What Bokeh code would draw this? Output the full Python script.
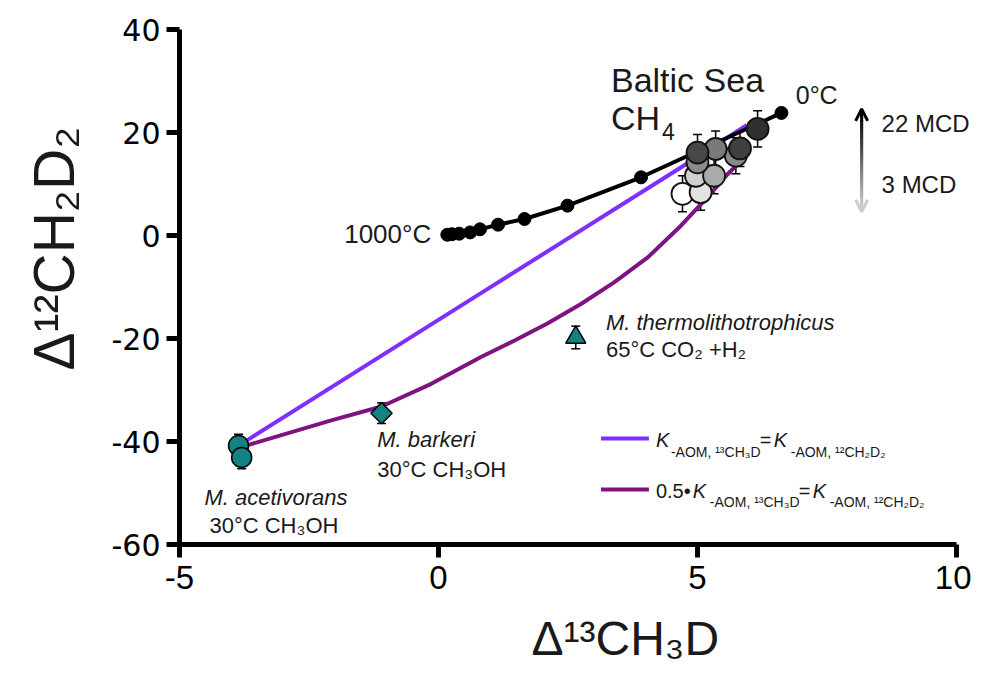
import numpy as np
from bokeh.plotting import figure
from bokeh.models import (ColumnDataSource, Whisker, Label, Arrow, OpenHead,
                          TeeHead, FixedTicker, Range1d, Title, PrintfTickFormatter)
from bokeh.embed import file_html
from bokeh.resources import INLINE

# ---------------- data ----------------
# equilibrium curve 0 °C ... 1000 °C
eq_x = [6.62, 3.91, 2.49, 1.66, 1.15, 0.80, 0.61, 0.40, 0.26, 0.17]
eq_y = [23.8, 11.3, 5.8, 3.2, 2.1, 1.2, 0.6, 0.35, 0.25, 0.15]

# Baltic Sea CH4 samples (drawn light -> dark)
baltic_x = [4.71, 5.06, 4.97, 5.32, 5.00, 5.74, 5.35, 5.00, 5.82, 6.16]
baltic_y = [8.1, 8.4, 11.6, 11.6, 14.2, 15.5, 16.8, 16.1, 16.9, 20.7]
baltic_err = [3.5, 3.5, 3.5, 3.5, 3.5, 3.5, 3.5, 3.5, 3.5, 3.5]
baltic_fill = ["#ffffff", "#e2e2e2", "#d0d0d0", "#aaaaaa", "#8a8a8a",
               "#8a8a8a", "#7a7a7a", "#474747", "#3f3f3f", "#303030"]

# culture experiments
acet_x = [-3.86, -3.80]
acet_y = [-40.8, -43.1]
acet_err = [2.2, 2.2]
bark_x = [-1.10]
bark_y = [-34.5]
bark_err = [2.0]
thermo_x = [2.65]
thermo_y = [-19.8]
thermo_err = [2.2]

# model curves
mix_x = [-3.83, 0.82, 4.74, 5.95]
mix_y = [-40.6, -11.2, 13.6, 21.4]
half_x = [-3.83, -3.65, -2.07, -1.10, -0.14, 0.82, 1.47, 2.11, 2.75, 3.39,
          4.04, 4.68, 5.19, 5.58, 5.84, 5.96]
half_y = [-41.0, -40.6, -35.9, -33.2, -28.8, -23.6, -20.4, -17.05, -13.3, -9.1,
          -4.25, 1.9, 7.4, 11.9, 14.5, 16.4]

x_ticks = [-5, 0, 5, 10]
y_ticks = [-60, -40, -20, 0, 20, 40]

TEAL = "#128282"
VIOLET = "#7f2fff"
PURPLE = "#7f137f"
TXT = "#1a1a1a"

# image-pixel -> data helpers (for annotation placement)
PXU = 778.0 / 15.0
def X(px):
    return -5 + (px - 178) / PXU

def Y(py):
    return 40 - (py - 28.6) * 100.0 / 515.4

W, H = 971, 695
p = figure(width=W, height=H, output_backend="svg", toolbar_location=None,
           x_range=Range1d(-5, X(W)), y_range=Range1d(-60, 40),
           min_border_left=178, min_border_right=0, min_border_top=29,
           min_border_bottom=151)
p.outline_line_color = None
p.grid.visible = False
p.background_fill_color = "white"
p.border_fill_color = "white"

for ax in (p.xaxis[0], p.yaxis[0]):
    ax.axis_line_width = 5
    ax.axis_line_color = "black"
    ax.major_tick_line_width = 5
    ax.major_tick_line_color = "black"
    ax.major_tick_out = 13
    ax.major_tick_in = 0
    ax.minor_tick_line_color = None
    ax.major_label_text_color = "black"
    ax.formatter = PrintfTickFormatter(format="%d")
p.xaxis.bounds = (-5, 10)
p.xaxis.ticker = FixedTicker(ticks=x_ticks)
p.yaxis.ticker = FixedTicker(ticks=y_ticks)
p.xaxis.major_label_text_font = "Liberation Sans"
p.xaxis.major_label_text_font_size = "33px"
p.xaxis.major_label_standoff = 8
p.yaxis.major_label_text_font = "DejaVu Sans"
p.yaxis.major_label_text_font_size = "30px"
p.yaxis.major_label_standoff = 6

# axis titles as side titles (so they can be placed off-centre)
p.add_layout(Title(text="Δ¹³CH₃D", align="left", offset=352, standoff=37,
                   text_font="Liberation Sans", text_font_size="48px",
                   text_font_style="normal", text_color=TXT), "below")
p.add_layout(Title(text="Δ¹²CH₂D₂", align="left", offset=174, standoff=42,
                   vertical_align="top",
                   text_font="Liberation Sans", text_font_size="57px",
                   text_font_style="normal", text_color=TXT), "left")

# model lines
p.line(mix_x, mix_y, line_color=VIOLET, line_width=4)
p.line(half_x, half_y, line_color=PURPLE, line_width=4, line_join="round")

# equilibrium curve
p.line(eq_x, eq_y, line_color="black", line_width=4)
p.scatter(eq_x, eq_y, size=13, fill_color="black", line_color="black")

# error bars
def whisk(xs, ys, es):
    src = ColumnDataSource(dict(x=xs, lo=[y - e for y, e in zip(ys, es)],
                                hi=[y + e for y, e in zip(ys, es)]))
    w = Whisker(source=src, base="x", lower="lo", upper="hi", dimension="height",
                line_color="black", line_width=1.5,
                upper_head=TeeHead(size=9, line_width=1.5, line_color="black"),
                lower_head=TeeHead(size=9, line_width=1.5, line_color="black"))
    p.add_layout(w)

whisk(baltic_x, baltic_y, baltic_err)
whisk(acet_x, acet_y, acet_err)
whisk(bark_x, bark_y, bark_err)
whisk(thermo_x, thermo_y, thermo_err)

bsrc = ColumnDataSource(dict(x=baltic_x, y=baltic_y, c=baltic_fill))
p.scatter("x", "y", source=bsrc, size=22, fill_color="c", line_color="#111111",
          line_width=1.8)

p.scatter(acet_x, acet_y, size=20, fill_color=TEAL, line_color="black", line_width=1.5)
p.scatter(bark_x, bark_y, marker="square", angle=np.pi / 4, size=15,
          fill_color=TEAL, line_color="black", line_width=1.5)
p.scatter(thermo_x, thermo_y, marker="triangle", size=20,
          fill_color=TEAL, line_color="black", line_width=1.5)

# gradient arrow (22 MCD -> 3 MCD)
ax_x = X(861)
y_top, y_bot = Y(113), Y(207)
n = 30
ys = np.linspace(y_top, y_bot, n + 1)
step = ys[1] - ys[0]
g = np.linspace(0, 205, n).astype(int)
cols = ["#%02x%02x%02x" % (v, v, v) for v in g]
p.segment(x0=[ax_x] * n, y0=list(ys[:-1]), x1=[ax_x] * n, y1=list(ys[1:] + step * 0.6),
          line_color=cols, line_width=3, line_cap="butt")
p.add_layout(Arrow(x_start=ax_x, y_start=Y(115), x_end=ax_x, y_end=Y(108),
                   line_color="black", line_width=3,
                   end=OpenHead(size=12, line_width=3, line_color="black")))
p.add_layout(Arrow(x_start=ax_x, y_start=Y(204), x_end=ax_x, y_end=Y(211),
                   line_color="#cdcdcd", line_width=3,
                   end=OpenHead(size=12, line_width=3, line_color="#cdcdcd")))

def lab(px, py, text, size, style="normal", font="Liberation Sans", align="left",
        color=TXT):
    # py is the wanted baseline in picture pixels; Label draws ~0.36 em lower
    p.add_layout(Label(x=X(px), y=Y(py - 0.36 * size), text=text, text_font=font,
                       text_font_size="%gpx" % size, text_font_style=style,
                       text_align=align, text_baseline="alphabetic",
                       text_color=color))

# annotations
lab(610, 91, "Baltic Sea", 34)
lab(610, 129, "CH", 34)
lab(661, 139, "4", 23)
lab(795, 103, "0°C", 25)
lab(430, 243, "1000°C", 26, align="right")
lab(881, 131, "22 MCD", 24)
lab(881, 192, "3 MCD", 24)
lab(605, 330, "M. thermolithotrophicus", 22, style="italic")
lab(605, 357, "65°C CO₂ +H₂", 22)
lab(376, 447, "M. barkeri", 22, style="italic")
lab(376, 477, "30°C CH₃OH", 22)
lab(203, 505, "M. acetivorans", 22, style="italic")
lab(208, 533, "30°C CH₃OH", 22)

# legend keys
p.segment(x0=[X(600), X(600)], y0=[Y(438), Y(489)], x1=[X(648), X(648)],
          y1=[Y(438), Y(489)], line_color=[VIOLET, PURPLE], line_width=4)
lab(655, 447, "K", 20, style="italic")
lab(670, 456, "-AOM, ¹³CH₃D", 14)
lab(759, 447, "=", 20)
lab(773, 447, "K", 20, style="italic")
lab(790, 456, "-AOM, ¹²CH₂D₂", 14)

lab(655, 498, "0.5•", 20)
lab(692, 498, "K", 20, style="italic")
lab(709, 507, "-AOM, ¹³CH₃D", 14)
lab(798, 498, "=", 20)
lab(812, 498, "K", 20, style="italic")
lab(829, 507, "-AOM, ¹²CH₂D₂", 14)

open("out.html", "w").write(file_html(p, INLINE))
